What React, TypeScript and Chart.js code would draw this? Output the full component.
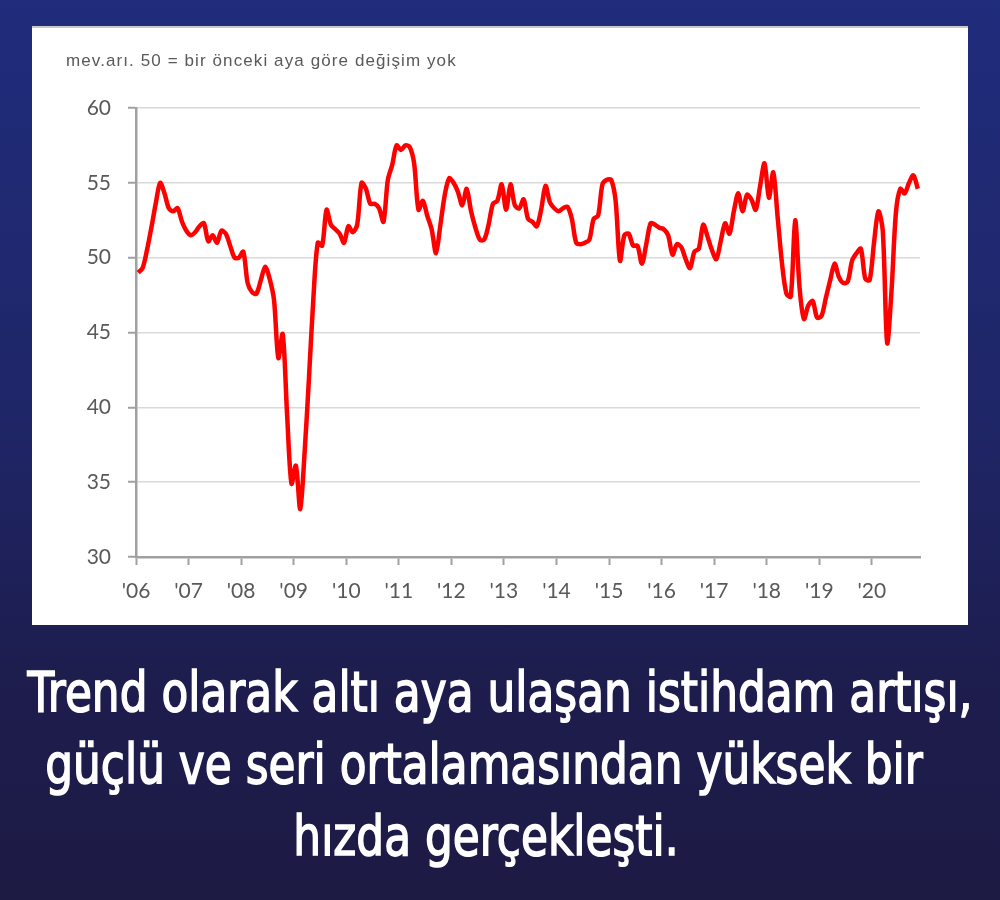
import React, { useEffect, useMemo, useRef } from "react";
import { Chart, registerables } from "chart.js";

Chart.register(...registerables);

// Monthly index values, Jan 2006 – Nov 2020
const values: number[] = [
  49.0, 49.3, 50.5, 52.0, 53.6, 55.0, 54.3, 53.3, 53.1, 53.3, 52.4, 51.8, // 2006
  51.5, 51.7, 52.1, 52.3, 51.1, 51.5, 51.0, 51.8, 51.6, 50.8, 50.0, 50.0, // 2007
  50.4, 48.3, 47.7, 47.6, 48.5, 49.4, 48.6, 47.2, 43.3, 44.9, 39.5, 34.9, // 2008
  36.1, 33.2, 37.0, 42.0, 47.3, 51.0, 50.8, 53.2, 52.2, 51.9, 51.6, 51.0, // 2009
  52.1, 51.7, 52.2, 55.0, 54.6, 53.6, 53.6, 53.3, 52.4, 55.2, 56.2, 57.5, // 2010
  57.2, 57.5, 57.4, 56.3, 53.2, 53.8, 52.8, 51.9, 50.3, 52.2, 54.2, 55.3, // 2011
  55.0, 54.4, 53.5, 54.6, 53.1, 52.0, 51.2, 51.2, 52.2, 53.6, 53.8, 54.9, // 2012
  53.2, 54.9, 53.5, 53.3, 53.9, 52.6, 52.4, 52.1, 53.2, 54.8, 53.7, 53.3, // 2013
  53.1, 53.3, 53.4, 52.6, 51.0, 50.9, 51.0, 51.2, 52.6, 52.8, 54.9, 55.2, // 2014
  55.2, 53.8, 49.8, 51.5, 51.6, 50.8, 50.8, 49.6, 50.9, 52.3, 52.2, 52.0, // 2015
  51.9, 51.5, 50.2, 50.9, 50.7, 49.9, 49.3, 50.4, 50.6, 52.2, 51.4, 50.5, // 2016
  49.9, 51.1, 52.3, 51.6, 53.1, 54.3, 53.1, 54.2, 53.9, 53.2, 54.8, 56.3, // 2017
  54.0, 55.7, 52.7, 49.6, 47.6, 47.4, 52.5, 48.0, 45.9, 46.8, 47.1, 46.0, // 2018
  46.1, 47.3, 48.5, 49.6, 48.7, 48.3, 48.4, 49.8, 50.3, 50.6, 48.6, 48.5, // 2019
  51.0, 53.1, 51.8, 44.3, 47.8, 53.0, 54.6, 54.3, 55.0, 55.5, 54.6, // 2020
];

const yearLabels: string[] = [
  "'06", "'07", "'08", "'09", "'10", "'11", "'12", "'13",
  "'14", "'15", "'16", "'17", "'18", "'19", "'20",
];

const yMin = 30;
const yMax = 60;
const yStep = 5;
const monthsOnAxis = 179;

const titleText = "mev.arı. 50 = bir önceki aya göre değişim yok";
const captionLines: string[] = [
  "Trend olarak altı aya ulaşan istihdam artışı,",
  "güçlü ve seri ortalamasından yüksek bir",
  "hızda gerçekleşti.",
];

const captionFont = "normal 55px 'DejaVu Sans'";

function ChartPanel() {
  const ref = useRef<HTMLCanvasElement | null>(null);
  useEffect(() => {
    if (!ref.current) return;
    const points = values.map((v, i) => ({ x: i + 0.5, y: v }));
    const chart = new Chart(ref.current, {
      type: "line",
      data: {
        datasets: [
          {
            data: points,
            borderColor: "#ff0000",
            borderWidth: 4.5,
            pointRadius: 0,
            tension: 0.3,
            fill: false,
          },
        ],
      },
      options: {
        animation: false,
        responsive: false,
        events: [],
        layout: { padding: { top: 82, right: 48, left: 0, bottom: 0 } },
        plugins: { legend: { display: false }, tooltip: { enabled: false } },
        scales: {
          x: {
            type: "linear",
            min: 0,
            max: monthsOnAxis,
            afterBuildTicks: (axis: any) => {
              axis.ticks = yearLabels.map((_, i) => ({ value: i * 12 }));
            },
            afterFit: (axis: any) => {
              axis.height = 68;
            },
            ticks: {
              autoSkip: false,
              maxRotation: 0,
              padding: 14,
              color: "#595959",
              font: { family: "Lato", size: 21 },
              callback: (_v: any, i: number) => yearLabels[i],
            },
            grid: {
              drawOnChartArea: false,
              drawTicks: true,
              tickLength: 8,
              tickColor: "#a0a0a0",
              tickWidth: 2,
            },
            border: { color: "#a0a0a0", width: 2.5 },
          },
          y: {
            min: yMin,
            max: yMax,
            afterFit: (axis: any) => {
              axis.width = 104;
            },
            ticks: {
              stepSize: yStep,
              padding: 17,
              color: "#595959",
              font: { family: "Lato", size: 21 },
            },
            grid: {
              color: "#d9d9d9",
              lineWidth: 1.5,
              tickLength: 8,
              tickColor: "#a0a0a0",
              tickWidth: 2,
            },
            border: { color: "#a0a0a0", width: 2.5 },
          },
        },
      },
    });
    return () => chart.destroy();
  }, []);
  return <canvas ref={ref} width={936} height={599} style={{ width: 936, height: 599, display: "block" }} />;
}

export default function App() {
  const scaleX = useMemo(() => {
    const c = document.createElement("canvas").getContext("2d");
    if (!c) return 0.8;
    c.font = captionFont;
    const w = c.measureText(captionLines[0]).width;
    return w > 0 ? 945 / w : 0.8;
  }, []);
  const centers = [500, 484, 486];
  return (
    <div
      style={{
        position: "fixed",
        left: 0,
        top: 0,
        width: 1000,
        height: 900,
        overflow: "hidden",
        background: "linear-gradient(180deg, #202c7c 0%, #1f2668 45%, #1d1d4e 75%, #1d1a44 100%)",
      }}
    >
      <div
        style={{
          position: "absolute",
          left: 32,
          top: 26,
          width: 936,
          height: 599,
          background: "#ffffff",
          borderTop: "2px solid #c8c8c8",
          boxSizing: "border-box",
        }}
      >
        <div style={{ position: "absolute", left: 0, top: -2 }}>
          <ChartPanel />
        </div>
        <div
          style={{
            position: "absolute",
            left: 34,
            top: 23,
            fontFamily: "'Liberation Sans', Arial, sans-serif",
            fontSize: 17,
            letterSpacing: 1.1,
            color: "#595959",
            whiteSpace: "nowrap",
          }}
        >
          {titleText}
        </div>
      </div>
      {captionLines.map((line, i) => (
        <div
          key={i}
          style={{
            position: "absolute",
            left: centers[i] - 1000,
            width: 2000,
            top: 665 + i * 72,
            textAlign: "center",
            font: captionFont,
            lineHeight: "55px",
            color: "#ffffff",
            WebkitTextStroke: "1.6px #ffffff",
            whiteSpace: "nowrap",
            transform: `scaleX(${scaleX})`,
            transformOrigin: "50% 50%",
          }}
        >
          {line}
        </div>
      ))}
    </div>
  );
}
